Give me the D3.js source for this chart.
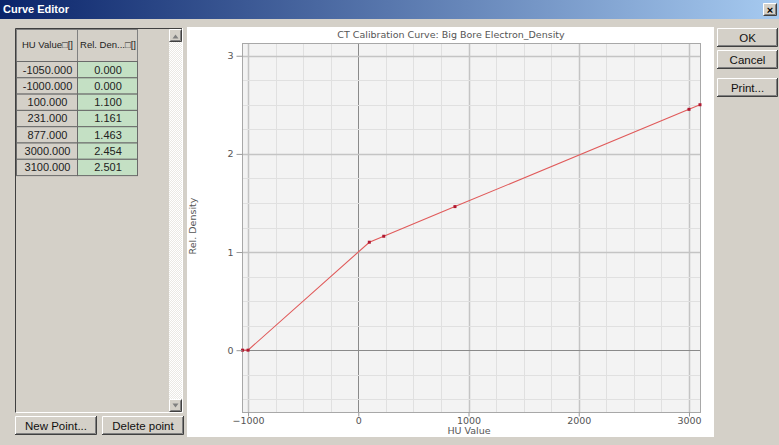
<!DOCTYPE html>
<html><head><meta charset="utf-8">
<script src="https://cdn.jsdelivr.net/npm/d3@7"></script>
<style>
html,body{margin:0;padding:0;background:#d4d0c8;overflow:hidden}
svg{display:block}
</style></head><body>
<svg id="c" width="779" height="445"></svg>
<script>
// ---- data ----
const huValues = [-1050, -1000, 100, 231, 877, 3000, 3100];
const relDensity = [0.000, 0.000, 1.100, 1.161, 1.463, 2.454, 2.501];
const xTicks = [-1000, 0, 1000, 2000, 3000];
const yTicks = [0, 1, 2, 3];
const chartTitle = "CT Calibration Curve: Big Bore Electron_Density";
const xLabel = "HU Value";
const yLabel = "Rel. Density";
const colHeaders = ["HU Value\u25a1[]", "Rel. Den...\u25a1[]"];
const dialogTitle = "Curve Editor";
const leftButtons = ["New Point...", "Delete point"];
const rightButtons = ["OK", "Cancel", "Print..."];

const svg = d3.select("#c");
const uiFont = "Liberation Sans, Arial, sans-serif";
const chartFont = "DejaVu Sans, Verdana, sans-serif";

// background
svg.append("rect").attr("width",779).attr("height",445).attr("fill","#d4d0c8");

// title bar
const defs = svg.append("defs");
const g1 = defs.append("linearGradient").attr("id","tb").attr("x1","0").attr("x2","1");
g1.append("stop").attr("offset","0").attr("stop-color","#0a246a");
g1.append("stop").attr("offset","1").attr("stop-color","#a6caf0");
svg.append("rect").attr("x",0).attr("y",0).attr("width",779).attr("height",19).attr("fill","url(#tb)");
svg.append("text").attr("x",3).attr("y",13).attr("fill","#fff").attr("font-family",uiFont)
  .attr("font-weight","bold").attr("font-size",11).text(dialogTitle);
function bevel(x,y,w,h){
  const g = svg.append("g");
  g.append("rect").attr("x",x).attr("y",y).attr("width",w).attr("height",h).attr("fill","#d4d0c8");
  g.append("path").attr("d",`M${x+0.5},${y+h-0.5}V${y+0.5}H${x+w-0.5}`).attr("stroke","#fff").attr("fill","none");
  g.append("path").attr("d",`M${x+0.5},${y+h-0.5}H${x+w-0.5}V${y+0.5}`).attr("stroke","#404040").attr("fill","none");
  g.append("path").attr("d",`M${x+1.5},${y+h-1.5}H${x+w-1.5}V${y+1.5}`).attr("stroke","#808080").attr("fill","none");
  return g;
}
bevel(763,3,14,13);
svg.append("text").attr("x",770).attr("y",13.5).attr("text-anchor","middle").attr("font-family",uiFont)
  .attr("font-weight","bold").attr("font-size",11).attr("fill","#000").text("\u00d7");

// ---- table ----
const tX = 15, tY = 28, colX = [16, 77, 137], headH = 33, rowH = 16.3;
svg.append("rect").attr("x",tX).attr("y",tY).attr("width",168).attr("height",385).attr("fill","#d4d0c8");
svg.append("path").attr("d",`M${tX+0.5},${tY+385}V${tY+0.5}H${tX+168}`).attr("stroke","#404040").attr("fill","none");
svg.append("path").attr("d",`M${tX+0.5},${tY+384.5}H${tX+167.5}V${tY}`).attr("stroke","#fff").attr("fill","none");
const pat = defs.append("pattern").attr("id","chk").attr("width",2).attr("height",2).attr("patternUnits","userSpaceOnUse");
pat.append("rect").attr("width",2).attr("height",2).attr("fill","#ebe9e4");
pat.append("rect").attr("width",1).attr("height",1).attr("fill","#fff");
pat.append("rect").attr("x",1).attr("y",1).attr("width",1).attr("height",1).attr("fill","#fff");
svg.append("rect").attr("x",169).attr("y",29).attr("width",13).attr("height",383).attr("fill","url(#chk)");
bevel(169,29,13,13);
bevel(169,399,13,13);
svg.append("path").attr("d","M172.5,38.5L175.5,34.5L178.5,38.5Z").attr("fill","#808080");
svg.append("path").attr("d","M172.5,403.5L175.5,407.5L178.5,403.5Z").attr("fill","#808080");

const tbl = svg.append("g");
colHeaders.forEach((h,i)=>{
  tbl.append("rect").attr("x",colX[i]+0.5).attr("y",29.5).attr("width",colX[i+1]-colX[i]).attr("height",headH-1)
    .attr("fill","#d4d0c8").attr("stroke","#808080");
  tbl.append("text").attr("x",(colX[i]+colX[i+1])/2+1).attr("y",48).attr("text-anchor","middle")
    .attr("font-family",uiFont).attr("font-size",9.5).attr("fill","#222").text(h);
});
huValues.forEach((v,r)=>{
  const y = 61 + r*rowH;
  tbl.append("rect").attr("x",colX[0]+0.5).attr("y",y+0.5).attr("width",colX[1]-colX[0]).attr("height",rowH)
    .attr("fill","#d4d0c8").attr("stroke","#6a6a6a");
  tbl.append("rect").attr("x",colX[1]+0.5).attr("y",y+0.5).attr("width",colX[2]-colX[1]).attr("height",rowH)
    .attr("fill","#c4e0c4").attr("stroke","#6a6a6a");
  tbl.append("text").attr("x",(colX[0]+colX[1])/2+1).attr("y",y+12.5).attr("text-anchor","middle")
    .attr("font-family",uiFont).attr("font-size",11).attr("fill","#222").text(v.toFixed(3));
  tbl.append("text").attr("x",(colX[1]+colX[2])/2+1).attr("y",y+12.5).attr("text-anchor","middle")
    .attr("font-family",uiFont).attr("font-size",11).attr("fill","#222").text(relDensity[r].toFixed(3));
});

function button(x,y,w,h,label){
  const g = svg.append("g");
  g.append("rect").attr("x",x).attr("y",y).attr("width",w).attr("height",h).attr("fill","#d4d0c8");
  g.append("path").attr("d",`M${x+0.5},${y+h-1}V${y+0.5}H${x+w-1}`).attr("stroke","#fff").attr("fill","none");
  g.append("path").attr("d",`M${x},${y+h-0.5}H${x+w-0.5}V${y}`).attr("stroke","#404040").attr("fill","none");
  g.append("path").attr("d",`M${x+1},${y+h-1.5}H${x+w-1.5}V${y+1}`).attr("stroke","#808080").attr("fill","none");
  g.append("text").attr("x",x+w/2).attr("y",y+h/2+4).attr("text-anchor","middle")
    .attr("font-family",uiFont).attr("font-size",11.5).attr("fill","#111").text(label);
}
button(15,416,82,19,leftButtons[0]);
button(102,416,82,19,leftButtons[1]);
const rbY = [28, 50, 78];
rightButtons.forEach((b,i)=>button(717,rbY[i],61,19,b));

// ---- chart ----
svg.append("rect").attr("x",187).attr("y",27).attr("width",527).attr("height",410).attr("fill","#fff");
const x = d3.scaleLinear().domain([-1055, 3100]).range([242, 700]);
const y = d3.scaleLinear().domain([-0.63, 3.13]).range([412, 43]);
const ch = svg.append("g");
ch.append("rect").attr("x",242).attr("y",43).attr("width",458).attr("height",369).attr("fill","#f3f3f3");

const xMinor = d3.range(-1000, 3001, 250);
const yMinor = d3.range(-0.5, 3.01, 0.25);
function col(v, majors){ return v===0 ? "#8a8a8a" : (majors.includes(v) ? "#c4c4c4" : "#e0e0e0"); }
ch.selectAll(".gx").data(xMinor).join("line")
  .attr("x1",d=>Math.round(x(d))+0.5).attr("x2",d=>Math.round(x(d))+0.5).attr("y1",43).attr("y2",412)
  .attr("stroke",d=>col(d,xTicks)).attr("stroke-width",d=>xTicks.includes(d)&&d!==0?1.5:1);
ch.selectAll(".gy").data(yMinor).join("line")
  .attr("y1",d=>Math.round(y(d))+0.5).attr("y2",d=>Math.round(y(d))+0.5).attr("x1",242).attr("x2",700)
  .attr("stroke",d=>col(d,yTicks)).attr("stroke-width",d=>yTicks.includes(d)&&d!==0?1.5:1);
ch.append("rect").attr("x",242.5).attr("y",43.5).attr("width",458).attr("height",369)
  .attr("fill","none").attr("stroke","#a8a8a8");

const xAxis = d3.axisBottom(x).tickValues(xTicks).tickSize(4).tickPadding(2).tickFormat(d3.format("d"));
const yAxis = d3.axisLeft(y).tickValues(yTicks).tickSize(6).tickPadding(2).tickFormat(d3.format("d"));
const gx = svg.append("g").attr("transform","translate(0,412.5)").call(xAxis);
const gy = svg.append("g").attr("transform","translate(242.5,0)").call(yAxis);
[gx,gy].forEach(g=>{
  g.select(".domain").remove();
  g.selectAll(".tick line").attr("stroke","#999");
  g.selectAll(".tick text").attr("fill","#555").attr("font-family",chartFont).attr("font-size",9.5);
});
gx.selectAll(".tick text").attr("dy","0.6em");
gy.selectAll(".tick text").attr("dx","-1");

const pts = huValues.map((v,i)=>[v, relDensity[i]]);
ch.append("path").datum(pts).attr("fill","none").attr("stroke","#e05a5a").attr("stroke-width",1.1)
  .attr("d", d3.line().x(d=>x(d[0])).y(d=>y(d[1])));
ch.selectAll(".pt").data(pts).join("rect")
  .attr("x",d=>x(d[0])-1.5).attr("y",d=>y(d[1])-1.5).attr("width",3).attr("height",3).attr("fill","#b01830");

svg.append("text").attr("x",451).attr("y",38).attr("text-anchor","middle").attr("font-family",chartFont)
  .attr("font-size",9.5).attr("fill","#555").text(chartTitle);
svg.append("text").attr("x",469).attr("y",434).attr("text-anchor","middle").attr("font-family",chartFont)
  .attr("font-size",9.5).attr("fill","#555").text(xLabel);
svg.append("text").attr("transform","translate(196,226) rotate(-90)").attr("text-anchor","middle")
  .attr("font-family",chartFont).attr("font-size",9.5).attr("fill","#555").text(yLabel);
</script>
</body></html>
